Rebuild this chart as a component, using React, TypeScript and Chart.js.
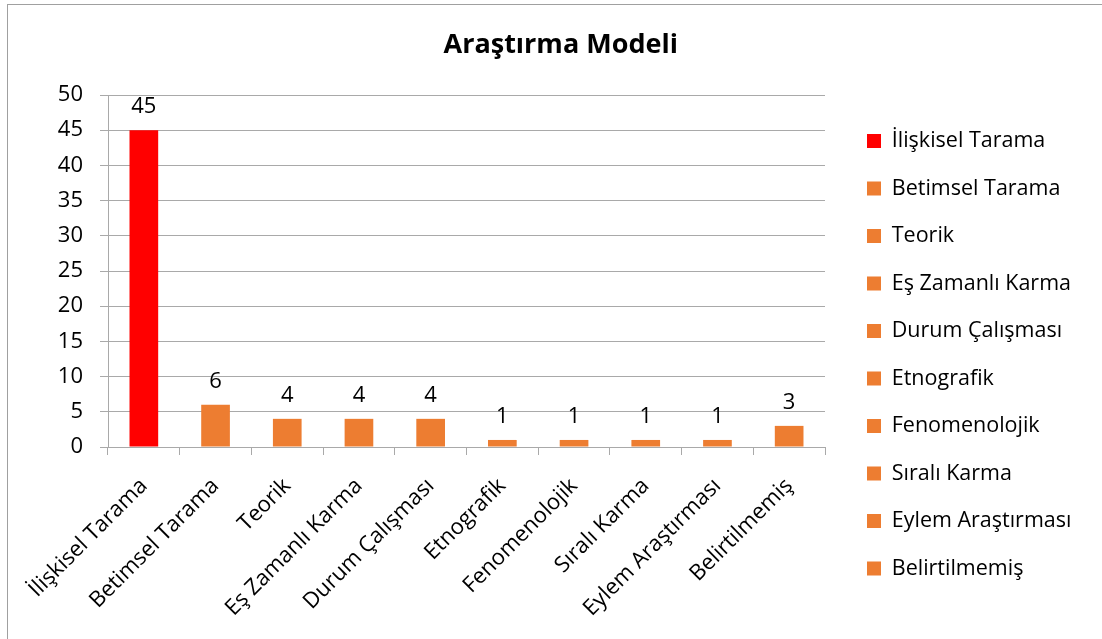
import React, { useEffect, useRef } from "react";
import { Chart, registerables } from "chart.js";

Chart.register(...registerables);

const chartTitle = "Araştırma Modeli";
const categories = [
  "İlişkisel Tarama",
  "Betimsel Tarama",
  "Teorik",
  "Eş Zamanlı Karma",
  "Durum Çalışması",
  "Etnografik",
  "Fenomenolojik",
  "Sıralı Karma",
  "Eylem Araştırması",
  "Belirtilmemiş",
];
const counts = [45, 6, 4, 4, 4, 1, 1, 1, 1, 3];
const barColors = [
  "#ff0000",
  "#ed7d31",
  "#ed7d31",
  "#ed7d31",
  "#ed7d31",
  "#ed7d31",
  "#ed7d31",
  "#ed7d31",
  "#ed7d31",
  "#ed7d31",
];
const yMin = 0;
const yMax = 50;
const yStep = 5;

const FONT = "'Open Sans', 'Noto Sans', sans-serif";
const GRID = "#a9a9a9";
const W = 1102;
const H = 639;
const LEGEND_SIZE = 21.5;
const LEGEND_PAD = 26;
const PB = 20;
const PL = 40;

export default function App() {
  const ref = useRef<HTMLCanvasElement>(null);

  useEffect(() => {
    document.body.style.margin = "0";
    const canvas = ref.current!;
    const mctx = canvas.getContext("2d")!;
    mctx.font = `${LEGEND_SIZE}px ${FONT}`;
    const maxW = Math.max(...categories.map((c) => mctx.measureText(c).width));
    const legendWidth = LEGEND_PAD + 14 + LEGEND_SIZE / 2 + maxW + 10;
    const PR = W - (867 - LEGEND_PAD) - legendWidth;
    const spacer = 867 - LEGEND_PAD - 825;

    const framePlugin = {
      id: "frame",
      afterDraw(chart: any) {
        const c = chart.ctx;
        c.save();
        c.fillStyle = "#a0a0a0";
        c.fillRect(7, 4, W - 7, 1);
        c.fillRect(7, 4, 1, H - 4);
        c.restore();
      },
    };

    const labelPlugin = {
      id: "valueLabels",
      afterDatasetsDraw(chart: any) {
        const c = chart.ctx;
        const meta = chart.getDatasetMeta(0);
        c.save();
        c.font = `22px ${FONT}`;
        c.fillStyle = "#000";
        c.textAlign = "center";
        c.textBaseline = "alphabetic";
        meta.data.forEach((bar: any, i: number) => {
          c.fillText(String(counts[i]), bar.x, bar.y - 17);
        });
        c.restore();
      },
    };

    const chart = new Chart(canvas, {
      type: "bar",
      data: {
        labels: categories,
        datasets: [
          {
            data: counts,
            backgroundColor: barColors,
            borderWidth: 0,
            categoryPercentage: 1,
            barPercentage: 0.4,
          },
        ],
      },
      options: {
        responsive: false,
        animation: false,
        devicePixelRatio: 1,
        layout: { padding: { left: PL, right: PR, top: 0, bottom: PB } },
        plugins: {
          title: {
            display: true,
            text: chartTitle,
            color: "#000",
            font: { family: FONT, size: 27, weight: "bold" },
            padding: { top: 29, bottom: 33.6 },
          },
          legend: {
            position: "right",
            align: "start",
            maxWidth: 400,
            onClick: () => {},
            title: {
              display: true,
              text: " ",
              font: { family: FONT, size: 10, lineHeight: 1 },
              padding: { top: 94.25, bottom: 0 },
            },
            labels: {
              boxWidth: 14,
              boxHeight: 14,
              padding: LEGEND_PAD,
              color: "#000",
              font: { family: FONT, size: LEGEND_SIZE },
              generateLabels: () =>
                categories.map((c, i) => ({
                  text: c,
                  fillStyle: barColors[i],
                  strokeStyle: barColors[i],
                  fontColor: "#000",
                  lineWidth: 0,
                  hidden: false,
                  index: i,
                  datasetIndex: 0,
                })),
            },
          },
          tooltip: { enabled: false },
        },
        scales: {
          x: {
            grid: {
              display: true,
              drawOnChartArea: false,
              drawTicks: true,
              tickLength: 8,
              color: GRID,
              offset: true,
            },
            border: { color: GRID },
            ticks: {
              color: "#000",
              font: { family: FONT, size: 22 },
              maxRotation: 45,
              minRotation: 45,
              autoSkip: false,
              padding: 18,
            },
            afterFit: (s: any) => {
              s.height = H - PB - 447;
            },
          },
          y: {
            min: yMin,
            max: yMax,
            grid: { color: GRID, tickLength: 8, drawTicks: true },
            border: { color: GRID },
            ticks: {
              stepSize: yStep,
              color: "#000",
              padding: 17,
              font: { family: FONT, size: 22 },
            },
            afterFit: (s: any) => {
              s.width = 108 - PL;
            },
          },
          y2: {
            position: "right",
            display: true,
            grid: { display: false, drawTicks: false },
            border: { display: false },
            ticks: { display: false },
            afterFit: (s: any) => {
              s.width = spacer;
            },
          },
        },
      },
      plugins: [framePlugin, labelPlugin],
    } as any);

    return () => chart.destroy();
  }, []);

  return (
    <div style={{ position: "fixed", left: 0, top: 0, width: W, height: H, background: "#fff" }}>
      <canvas ref={ref} width={W} height={H} style={{ width: W, height: H, display: "block" }} />
    </div>
  );
}
